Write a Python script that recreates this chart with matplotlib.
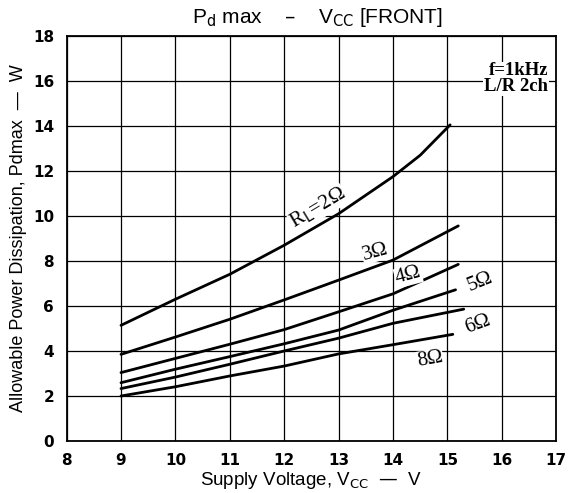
import matplotlib
matplotlib.use("Agg")
import matplotlib.pyplot as plt

# Data
v_2ohm = [9.0, 10.0, 11.0, 12.0, 13.0, 14.0, 14.5, 15.05]
p_2ohm = [5.14, 6.3, 7.41, 8.7, 10.1, 11.75, 12.7, 14.05]

v_3ohm = [9.0, 10.0, 11.0, 12.0, 13.0, 14.0, 15.2]
p_3ohm = [3.85, 4.62, 5.41, 6.27, 7.15, 8.04, 9.56]

v_4ohm = [9.0, 10.0, 11.0, 12.0, 13.0, 14.0, 15.2]
p_4ohm = [3.04, 3.67, 4.30, 4.95, 5.74, 6.54, 7.85]

v_5ohm = [9.0, 10.0, 11.0, 12.0, 13.0, 14.0, 15.15]
p_5ohm = [2.59, 3.19, 3.75, 4.32, 4.93, 5.81, 6.72]

v_6ohm = [9.0, 10.0, 11.0, 12.0, 13.0, 14.0, 15.3]
p_6ohm = [2.33, 2.84, 3.41, 4.0, 4.57, 5.23, 5.86]

v_8ohm = [9.0, 10.0, 11.0, 12.0, 13.0, 14.0, 15.1]
p_8ohm = [2.0, 2.41, 2.89, 3.33, 3.87, 4.28, 4.74]

x_ticks = [8, 9, 10, 11, 12, 13, 14, 15, 16, 17]
y_ticks = [0, 2, 4, 6, 8, 10, 12, 14, 16, 18]

curves = [
    (v_2ohm, p_2ohm, r"R$_\mathrm{L}$=2Ω", 12.62, 10.35, 31),
    (v_3ohm, p_3ohm, "3Ω", 13.67, 8.4, 15),
    (v_4ohm, p_4ohm, "4Ω", 14.28, 7.35, 15),
    (v_5ohm, p_5ohm, "5Ω", 15.6, 7.05, 22),
    (v_6ohm, p_6ohm, "6Ω", 15.55, 5.2, 20),
    (v_8ohm, p_8ohm, "8Ω", 14.68, 3.62, 10),
]

fig = plt.figure(figsize=(5.74, 4.93), dpi=100)
ax = fig.add_axes([0.116, 0.1055, 0.853, 0.8215])

ax.set_xlim(8, 17)
ax.set_ylim(0, 18)
ax.set_xticks(x_ticks)
ax.set_yticks(y_ticks)
ax.tick_params(length=0, labelsize=11, pad=9)
for lbl in ax.get_xticklabels() + ax.get_yticklabels():
    lbl.set_fontweight("bold")
ax.grid(True, color="black", linewidth=0.9)
for s in ax.spines.values():
    s.set_linewidth(1.3)

serif = "Liberation Serif"
for v, p, label, lx, ly, rot in curves:
    ax.plot(v, p, color="black", linewidth=2.0, solid_capstyle="round", zorder=3)
    ax.text(lx, ly, label, fontsize=15, family=serif,
            rotation=rot, ha="center", va="center", rotation_mode="anchor",
            zorder=4,
            bbox=dict(facecolor="white", edgecolor="none", pad=0.3))

ax.text(16.85, 16.45, "f=1kHz", fontsize=13.5, family=serif, fontweight="bold",
        ha="right", va="center", zorder=4,
        bbox=dict(facecolor="white", edgecolor="none", pad=0.5))
ax.text(16.85, 15.75, "L/R 2ch", fontsize=13.5, family=serif, fontweight="bold",
        ha="right", va="center", zorder=4,
        bbox=dict(facecolor="white", edgecolor="none", pad=0.5))

fig.text(0.553, 0.965, r"P$_\mathrm{d}$ max    –    V$_\mathrm{CC}$ [FRONT]",
         fontsize=15, family="Liberation Sans", ha="center", va="center")
ax.set_xlabel(r"Supply Voltage, V$_\mathrm{CC}$  —  V", fontsize=13.5,
              family="Liberation Sans", labelpad=1)
ax.set_ylabel(r"Allowable Power Dissipation, Pdmax  —  W", fontsize=13,
              family="Liberation Sans", labelpad=4)

fig.savefig("out.png", dpi=100, facecolor="white")
